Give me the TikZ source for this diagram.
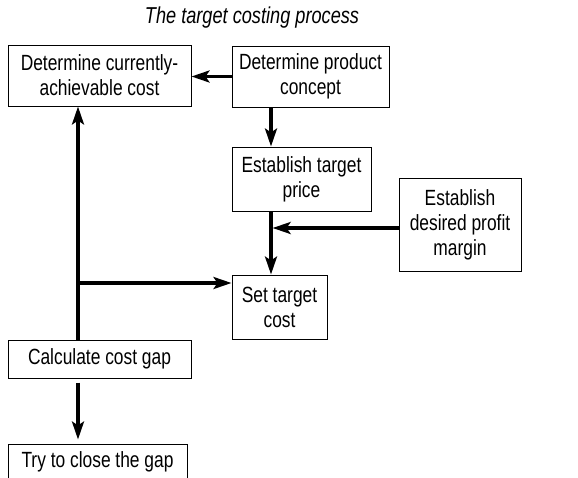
\documentclass[tikz,border=0pt]{standalone}
\usepackage{fontspec}
\setmainfont[FakeStretch=0.79]{Liberation Sans}
\usetikzlibrary{arrows.meta}
\begin{document}
\begin{tikzpicture}[x=1pt,y=-1pt,
  box/.style={draw, line width=1pt, inner sep=0pt, align=center,
    font=\fontsize{22}{25}\selectfont},
  arr/.style={line width=3.2pt, -{Stealth[length=18pt,width=12pt,inset=4pt]}}]
\useasboundingbox (0,0) rectangle (578,477);
\clip (0,0) rectangle (578,477);
\fill[white] (0,0) rectangle (578,477);
\node[font=\fontsize{23}{26}\selectfont\itshape] (T) at (252,18) {The target costing process};
\node[box, minimum width=183pt, minimum height=61pt] (A) at (99.5,75.5) {Determine currently-\\achievable cost};
\node[box, minimum width=157pt, minimum height=61pt] (B) at (310.5,76.5) {Determine product\\concept};
\node[box, minimum width=139pt, minimum height=64pt] (C) at (301.5,179) {Establish target\\price};
\node[box, minimum width=122pt, minimum height=93pt] (D) at (460,224.5) {Establish\\desired profit\\margin};
\node[box, minimum width=95pt, minimum height=64pt] (E) at (279.5,307) {Set target\\cost};
\node[box, minimum width=183pt, minimum height=38pt] (F) at (99.5,359) {Calculate cost gap};
\node[box, minimum width=179pt, minimum height=36pt] (G) at (97.5,462) {Try to close the gap};
\coordinate (x1) at (271,0);
\coordinate (x2) at (78,0);
\coordinate (y1) at (0,228);
\coordinate (y2) at (0,283);
\draw[arr] (B.west) -- (B.west -| A.east);
\draw[arr] (B.south -| x1) -- (C.north -| x1);
\draw[arr] (C.south -| x1) -- (E.north -| x1);
\draw[arr] (D.west |- y1) -- ([xshift=1.6pt]x1 |- y1);
\draw[arr] (F.north -| x2) -- (A.south -| x2);
\draw[arr] (x2 |- y2) -- (E.west |- y2);
\draw[arr] ([yshift=-4pt]F.south -| x2) -- ([yshift=4pt]G.north -| x2);
\end{tikzpicture}
\end{document}
